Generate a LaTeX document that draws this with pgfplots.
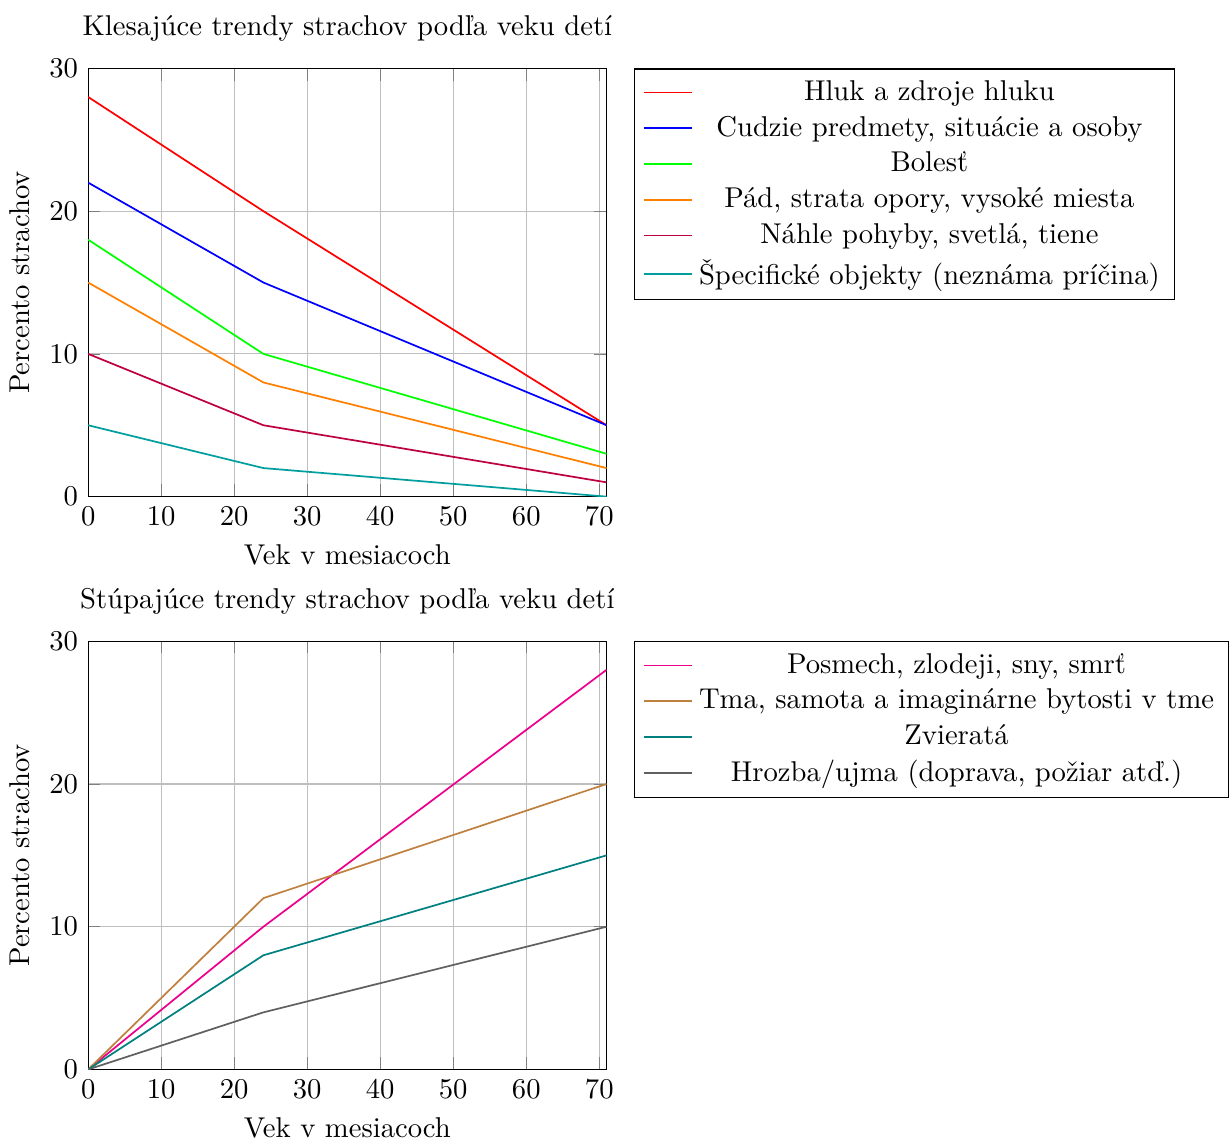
\documentclass[border=0pt]{standalone}
\usepackage{fontspec}
\usepackage{pgfplots}
\pgfplotsset{compat=1.18}
\definecolor{mypink}{RGB}{236,0,140}
\definecolor{myteal}{RGB}{0,158,158}
\definecolor{mygray}{RGB}{96,96,96}

\pgfplotsset{
  trend/.style={
    scale only axis,
    width=181pt, height=149.5pt,
    xmin=0, xmax=71, ymin=0, ymax=30,
    xtick={0,10,...,70}, ytick={0,10,20,30},
    grid=major,
    xlabel={Vek v mesiacoch},
    ylabel={Percento strachov},
    legend style={at={(1.052,1)}, anchor=north west, draw=black},
    legend cell align=center,
    every axis plot/.append style={semithick, no markers},
  }
}

\begin{document}
\begin{tikzpicture}
\begin{axis}[trend, title={Klesajúce trendy strachov podľa veku detí}]
\addplot[red] coordinates {(0,28) (24,20) (71,5)};
\addlegendentry{Hluk a zdroje hluku}
\addplot[blue] coordinates {(0,22) (24,15) (71,5)};
\addlegendentry{Cudzie predmety, situácie a osoby}
\addplot[green] coordinates {(0,18) (24,10) (71,3)};
\addlegendentry{Bolesť}
\addplot[orange] coordinates {(0,15) (24,8) (71,2)};
\addlegendentry{Pád, strata opory, vysoké miesta}
\addplot[purple] coordinates {(0,10) (24,5) (71,1)};
\addlegendentry{Náhle pohyby, svetlá, tiene}
\addplot[myteal] coordinates {(0,5) (24,2) (71,0)};
\addlegendentry{Špecifické objekty (neznáma príčina)}
\end{axis}

\begin{axis}[trend, at={(0,-200pt)}, title={Stúpajúce trendy strachov podľa veku detí}]
\addplot[mypink] coordinates {(0,0) (24,10) (71,28)};
\addlegendentry{Posmech, zlodeji, sny, smrť}
\addplot[brown] coordinates {(0,0) (24,12) (71,20)};
\addlegendentry{Tma, samota a imaginárne bytosti v tme}
\addplot[teal] coordinates {(0,0) (24,8) (71,15)};
\addlegendentry{Zvieratá}
\addplot[mygray] coordinates {(0,0) (24,4) (71,10)};
\addlegendentry{Hrozba/ujma (doprava, požiar atď.)}
\end{axis}
% shift the page box a little upward, as in the reference crop
\coordinate (bbNE) at (current bounding box.north east);
\coordinate (bbSW) at (current bounding box.south west);
\pgfresetboundingbox
\path[use as bounding box] ([yshift=2pt]bbNE) rectangle ([yshift=2pt]bbSW);
\end{tikzpicture}
\end{document}
